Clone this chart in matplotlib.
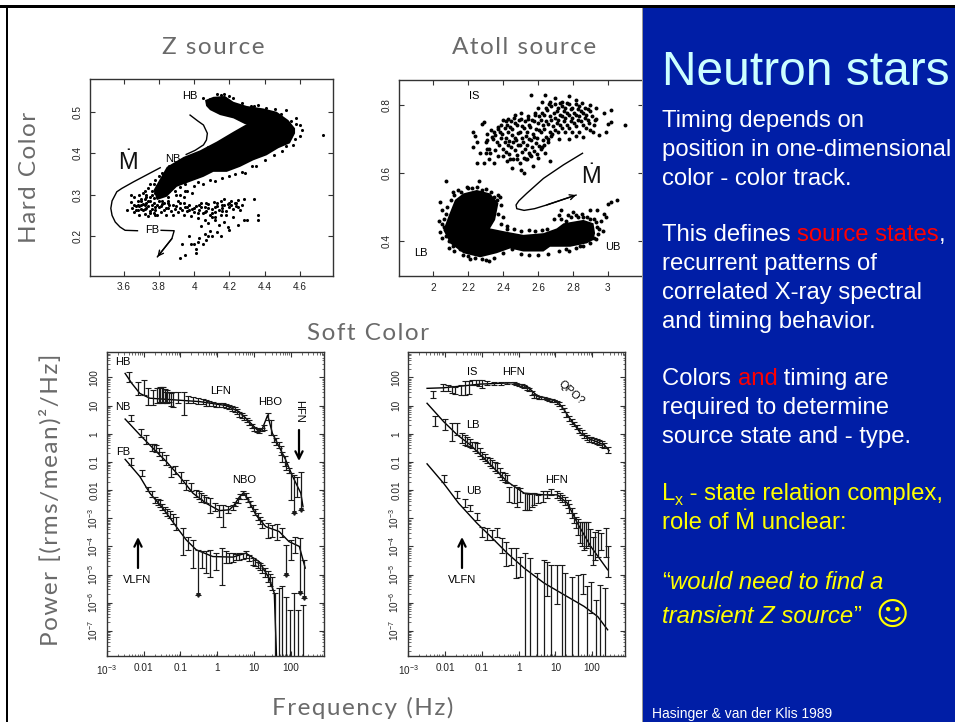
#!/usr/bin/env python3
# Neutron stars slide: two colour-colour diagrams, two power spectra, text column

import numpy as np
import matplotlib
matplotlib.use("Agg")
import matplotlib.pyplot as plt
from matplotlib.patches import Polygon, Rectangle
from matplotlib.ticker import LogLocator, NullFormatter

W, H = 955, 722

# ---- colour-colour diagrams ----
# solid black part of the Z track, read as an outline
z_core_x = [4.062,4.109,4.175,4.223,4.298,4.392,4.468,4.534,4.572,4.572,4.543,4.477,4.411,4.336,4.26,4.185,4.109,4.053,3.977,3.902,3.845,3.789,3.77,3.845,3.94,4.034,4.128,4.223,4.289,4.298,4.223,4.147,4.09,4.068]
z_core_y = [.528,.536,.538,.524,.514,.508,.5,.48,.46,.448,.424,.412,.395,.383,.367,.355,.355,.343,.331,.319,.295,.287,.311,.367,.391,.407,.428,.452,.468,.468,.484,.492,.504,.514]
z_pts = [
 (4.73,.445),(4.61,.455),(4.60,.468),(4.58,.484),(4.52,.505),(4.46,.507),(4.36,.516),(4.32,.514),(4.15,.54),(4.2,.538),(4.09,.53),(4.05,.532),
 (4.13,.542),(4.17,.544),(4.22,.532),(4.27,.522),(4.34,.513),(4.41,.51),(4.49,.494),(4.55,.478),(4.58,.47),(4.6,.442),(4.57,.435),(4.56,.42),(4.52,.418),
 (4.5,.405),(4.45,.395),(4.4,.383),(4.33,.37),(4.27,.355),(4.2,.345),(4.12,.333),(4.05,.325),(3.99,.305),(3.94,.295),(3.9,.3),(3.85,.285),
 (4.3,.46),(4.25,.44),(4.2,.437),(4.16,.43),(4.12,.42),(4.08,.415),(4.05,.405),(4.0,.398),(3.97,.39),(3.93,.382),(3.9,.372),(3.86,.368),(3.82,.352),
 (3.8,.345),(3.84,.355),(3.78,.335),(3.75,.325),(3.72,.31),(3.69,.3),(3.66,.295),(3.64,.3),(4.35,.37),(4.29,.352),(4.23,.35),(4.16,.34),(4.09,.336),(4.0,.32),(3.96,.31),
 (3.71,.305),(3.74,.315),(3.77,.325),(3.73,.3),(3.76,.31),(3.79,.32),(3.82,.33),(3.75,.295),(3.78,.305),(3.81,.315),(3.84,.33),(3.87,.345),(3.7,.285),(3.72,.29),
 (3.74,.285),(3.77,.292),(3.8,.3),(3.83,.31),(3.86,.32),(3.89,.33),(3.92,.35),(3.95,.36),(3.89,.31),(3.92,.318),(3.95,.325),(3.92,.3),(3.95,.31),(3.98,.35),(4.02,.33),
 (3.62,.263),(3.64,.282),(3.65,.267),(3.66,.258),(3.67,.272),(3.68,.262),(3.69,.25),(3.7,.265),(3.71,.278),(3.72,.254),(3.73,.268),(3.74,.248),(3.75,.26),
 (3.76,.275),(3.77,.256),(3.78,.262),(3.79,.25),(3.8,.27),(3.81,.258),(3.82,.278),(3.83,.262),(3.84,.252),(3.85,.268),(3.86,.276),(3.87,.26),(3.88,.25),
 (3.89,.266),(3.9,.272),(3.91,.258),(3.92,.28),(3.93,.262),(3.94,.252),(3.95,.27),(3.96,.26),(3.97,.276),(3.98,.248),(3.99,.265),(4.0,.258),(4.01,.272),
 (4.02,.244),(4.03,.262),(4.04,.28),(4.05,.255),(4.06,.27),(4.07,.26),(4.08,.278),(4.09,.25),(4.1,.265),(4.11,.282),(4.12,.258),(4.13,.272),(4.14,.262),
 (4.15,.285),(4.16,.268),(4.17,.29),(4.18,.26),(4.19,.278),(4.2,.27),(4.21,.285),(4.22,.265),(4.23,.28),(4.24,.272),(4.25,.288),(4.26,.262),(4.27,.276),(4.28,.29),
 (3.68,.285),(3.7,.29),(3.72,.275),(3.73,.295),(3.75,.285),(3.76,.3),(3.77,.28),(3.79,.295),(3.8,.285),(3.82,.3),(3.83,.28),(3.85,.295),(3.86,.31),(3.69,.272),
 (3.71,.262),(3.74,.272),(3.78,.27),(3.81,.272),(3.84,.268),(3.66,.275),(3.67,.262),(3.72,.265),(3.75,.255),(3.78,.252),(3.92,.268),(3.96,.27),(4.0,.268),(4.04,.27),
 (4.08,.268),(4.12,.27),(4.16,.276),(4.2,.28),(4.24,.28),(4.02,.255),(4.06,.258),(4.1,.255),(3.68,.275),(3.7,.275),(3.73,.28),(3.76,.265),(3.79,.275),(3.82,.285),
 (3.85,.28),(3.88,.275),(3.91,.285),(3.94,.28),(3.97,.262),(4.03,.275),(4.07,.28),(4.13,.28),(4.17,.275),(4.21,.275),(4.25,.27),
 (4.04,.225),(4.06,.24),(4.08,.232),(4.1,.245),(4.12,.238),(4.14,.228),(4.15,.25),(4.17,.235),(4.19,.222),(4.13,.21),(4.09,.212),(4.06,.205),(4.03,.195),
 (4.07,.19),(4.1,.2),(4.15,.2),(4.2,.215),(4.25,.228),(4.22,.245),(4.3,.24),(4.28,.24),(4.36,.24),(4.36,.25),(4.34,.29),(3.93,.18),(3.97,.2),(4.0,.18),
 (4.01,.17),(4.02,.185),(4.05,.18),(3.95,.155),(3.92,.147),(4.01,.16),(3.98,.182),(4.08,.2),(4.16,.26),(4.18,.25),(4.12,.245),
]

a_lb_x = [2.086,2.124,2.172,2.249,2.325,2.373,2.354,2.325,2.421,2.516,2.631,2.707,2.746,2.86,2.918,2.927,2.918,2.88,2.784,2.669,2.631,2.516,2.44,2.363,2.268,2.172,2.096,2.057]
a_lb_y = [.472,.521,.540,.55,.540,.511,.462,.437,.427,.418,.423,.437,.452,.462,.452,.423,.403,.393,.383,.383,.369,.369,.378,.364,.352,.364,.393,.432]
a_pts = [
 (3.1,.742),(3.02,.75),(3.0,.745),(3.02,.785),(2.99,.72),(2.95,.712),(2.98,.775),(2.93,.79),(2.56,.828),(2.29,.75),(2.28,.745),(2.24,.71),(2.23,.72),
 (2.25,.69),(2.23,.675),(2.25,.628),(2.29,.63),(2.32,.64),(2.35,.63),(2.3,.66),(2.32,.67),(2.27,.66),(2.3,.69),(2.34,.7),(2.31,.715),(2.35,.72),(2.37,.735),
 (2.4,.755),(2.43,.76),(2.47,.77),(2.5,.775),(2.54,.76),(2.58,.775),(2.62,.81),(2.64,.83),(2.6,.79),(2.67,.81),(2.7,.82),(2.74,.81),(2.78,.825),(2.82,.815),
 (2.85,.805),(2.9,.8),(2.93,.76),(2.92,.74),(2.9,.725),(2.86,.705),(2.82,.71),(2.78,.7),(2.72,.7),(2.68,.715),(2.66,.69),(2.64,.66),(2.67,.635),(2.62,.675),
 (2.6,.645),(2.57,.62),(2.52,.6),(2.5,.61),(2.45,.615),(2.42,.635),(2.4,.65),(2.37,.65),(2.44,.64),(2.48,.64),(2.53,.64),(2.56,.65),
 (2.305,.672),(2.31,.698),(2.325,.66),(2.338,.705),(2.33,.727),(2.355,.668),(2.365,.692),(2.352,.712),(2.372,.73),(2.375,.682),(2.388,.703),(2.382,.722),(2.39,.742),
 (2.398,.672),(2.41,.692),(2.396,.716),(2.408,.733),(2.416,.752),(2.418,.662),(2.427,.682),(2.415,.703),(2.43,.722),(2.424,.742),(2.436,.655),(2.447,.677),(2.435,.695),
 (2.449,.712),(2.438,.735),(2.445,.752),(2.455,.642),(2.468,.668),(2.458,.692),(2.469,.703),(2.452,.73),(2.466,.747),(2.46,.762),(2.477,.652),(2.486,.682),(2.475,.697),
 (2.488,.717),(2.478,.74),(2.49,.755),(2.497,.63),(2.508,.662),(2.495,.682),(2.51,.702),(2.496,.722),(2.507,.737),(2.5,.76),(2.518,.645),(2.527,.672),(2.516,.692),
 (2.529,.71),(2.517,.733),(2.526,.752),(2.536,.642),(2.547,.66),(2.535,.682),(2.549,.7),(2.538,.722),(2.546,.74),(2.54,.767),(2.556,.652),(2.568,.675),(2.557,.697),
 (2.569,.715),(2.555,.735),(2.566,.755),(2.576,.665),(2.587,.687),(2.575,.705),(2.589,.73),(2.578,.752),(2.585,.77),(2.595,.655),(2.607,.68),(2.596,.702),(2.608,.725),
 (2.598,.747),(2.605,.767),(2.615,.67),(2.627,.697),(2.616,.72),(2.628,.742),(2.617,.757),(2.625,.776),(2.635,.682),(2.648,.707),(2.636,.73),(2.647,.752),(2.634,.77),
 (2.645,.79),(2.655,.7),(2.667,.722),(2.656,.745),(2.668,.767),(2.654,.785),(2.665,.802),(2.675,.71),(2.687,.737),(2.677,.757),(2.689,.777),(2.676,.796),(2.695,.725),
 (2.707,.747),(2.697,.762),(2.708,.782),(2.696,.802),(2.715,.72),(2.727,.742),(2.716,.757),(2.728,.772),(2.717,.792),(2.726,.807),(2.735,.732),(2.747,.752),(2.736,.767),
 (2.748,.782),(2.737,.797),(2.755,.722),(2.767,.742),(2.756,.762),(2.768,.777),(2.757,.792),(2.766,.807),(2.775,.732),(2.787,.752),(2.776,.772),(2.788,.787),(2.777,.802),
 (2.795,.722),(2.807,.747),(2.796,.762),(2.808,.777),(2.797,.792),(2.815,.737),(2.827,.757),(2.816,.772),(2.828,.787),(2.817,.802),(2.835,.722),(2.847,.752),(2.836,.767),
 (2.848,.782),(2.837,.797),(2.855,.742),(2.867,.762),(2.856,.777),(2.868,.792),(2.875,.732),(2.887,.757),(2.876,.772),(2.888,.787),(2.895,.747),(2.907,.767),(2.896,.782),
 (2.915,.722),(2.926,.757),
 (2.07,.575),(2.11,.545),(2.14,.55),(2.19,.56),(2.2,.555),(2.25,.56),(2.3,.552),(2.26,.577),(2.38,.53),(2.37,.535),(2.4,.47),(2.385,.505),(2.42,.445),
 (2.04,.515),(2.05,.49),(2.03,.46),(2.06,.44),(2.04,.425),(2.05,.41),(2.09,.38),(2.12,.37),(2.17,.36),(2.21,.347),(2.3,.345),(2.32,.342),(2.35,.35),(2.4,.365),
 (2.45,.375),(2.5,.362),(2.55,.36),(2.6,.358),(2.66,.362),(2.72,.37),(2.78,.37),(2.84,.385),(2.92,.41),(2.95,.435),(2.97,.43),(2.96,.46),(2.98,.48),(3.0,.51),
 (3.02,.515),(3.05,.52),(2.99,.47),(2.94,.49),(2.9,.49),(2.85,.48),(2.8,.485),(2.77,.475),(2.73,.49),(2.72,.475),(2.69,.465),(2.83,.47),(2.88,.47),(2.92,.465),
 (2.65,.435),(2.62,.432),(2.58,.43),(2.55,.432),(2.5,.43),(2.46,.435),(2.42,.435),(2.39,.45),(2.37,.48),(2.365,.52),(2.35,.53),(2.33,.545),(2.28,.55),(2.22,.555),
 (2.16,.545),(2.12,.535),(2.1,.52),(2.08,.5),(2.07,.48),(2.06,.465),(2.05,.45),(2.07,.415),(2.09,.4),(2.11,.385),(2.15,.375),(2.2,.355),(2.24,.35),(2.28,.348),
 (2.73,.465),(2.76,.46),(2.79,.47),(2.82,.475),(2.86,.47),(2.9,.465),(2.93,.455),(2.94,.44),(2.945,.42),(2.93,.405),(2.9,.395),(2.86,.385),(2.82,.38),(2.76,.375),
]

# ---- spectra, log10(f) and log10(P) ----
hb_line_f = [-2.50,-2.32,-2.10,-1.83,-1.38,-.48,.24,.60,.87,1.14,1.23,1.37,1.50,1.68,1.86,2.05,2.27,2.33]
hb_line_p = [2.14,1.79,1.43,1.26,1.22,1.14,1.0,.78,.43,.07,.19,.66,.01,-.46,-.93,-1.52,-2.11,-2.59]
hb_f = [-2.39,-2.14,-1.99,-1.87,-1.74,-1.63,-1.59,-1.54,-1.50,-1.47,-1.43,-1.40,-1.36,-1.32,-1.26,-1.20,-1.06,-.90,-.79,-.66,-.52,-.39,-.30,-.21,-.12,-.03,.06,.15,.24,.33,.40,.47,.54,.60,.67,.74,.80,.87,.94,1.01,1.08,1.14,1.21,1.28,1.37,1.46,1.55,1.61,1.67,1.72,1.77,1.83,1.88,1.94,2.0,2.09,2.18,2.27]
hb_hi = [2.20,1.85,1.91,1.61,1.55,1.61,1.63,1.67,1.67,1.67,1.60,1.49,1.55,1.49,1.45,1.49,1.49,1.49,1.34,1.29,1.26,1.22,1.18,1.16,1.12,1.10,1.09,1.08,1.05,1.02,.98,.94,.86,.78,.72,.66,.56,.49,.36,.25,.20,.16,.22,.31,.72,.49,-.04,-.16,-.28,-.45,-.64,-.8,-.99,-1.2,-1.40,-1.46,-1.52,-1.35]
hb_lo = [1.85,1.37,1.37,1.02,1.02,1.08,1.10,1.14,1.08,1.14,1.14,1.08,1.10,1.14,1.0,.94,1.08,.66,1.08,1.10,1.05,1.05,1.0,.98,.97,.96,.95,.94,.90,.87,.82,.78,.70,.61,.55,.49,.40,.31,.20,.11,.07,.04,.08,.13,.49,-.04,-.28,-.40,-.52,-.74,-.99,-1.14,-1.29,-1.4,-2.35,-2.82,-2.23,-2.70]
hb_arrow_f = [2.09,2.27]
hb_arrow_p = [-2.82,-2.70]

nb_line_f = [-2.50,-2.10,-1.74,-1.38,-1.02,-.66,-.30,.06,.33,.45,.60,.72,.87,1.05,1.32,1.68,1.95,2.23,2.39]
nb_line_p = [.52,-.04,-.52,-.99,-1.52,-2.11,-2.47,-2.73,-2.70,-2.55,-2.25,-2.09,-2.41,-2.88,-3.30,-3.47,-3.83,-4.0,-4.77]
nb_f = [-2.34,-2.08,-1.92,-1.78,-1.72,-1.65,-1.58,-1.51,-1.38,-1.26,-1.14,-.99,-.84,-.70,-.57,-.50,-.43,-.36,-.30,-.19,-.05,.06,.17,.29,.42,.49,.56,.63,.71,.77,.83,.90,.96,1.03,1.10,1.16,1.23,1.37,1.50,1.62,1.77,1.88,2.0,2.12,2.25,2.36]
nb_hi = [.66,.16,-.04,-.36,-.36,-.40,-.5,-.64,-.75,-1.17,-1.13,-1.35,-1.64,-1.76,-2.0,-2.05,-2.11,-2.17,-2.23,-2.29,-2.47,-2.53,-2.53,-2.56,-2.53,-2.42,-2.29,-2.15,-2.03,-2.12,-2.23,-2.38,-2.53,-2.68,-2.82,-2.95,-3.06,-3.18,-3.24,-3.20,-3.35,-3.95,-3.77,-3.65,-3.71,-4.48]
nb_lo = [.46,-.13,-.36,-.60,-.62,-.64,-.78,-.93,-1.11,-1.52,-1.43,-1.76,-2.0,-2.05,-2.23,-2.32,-2.41,-2.44,-2.47,-2.82,-2.76,-2.94,-3.30,-2.82,-2.70,-2.58,-2.47,-2.32,-2.17,-2.3,-2.44,-2.6,-2.76,-2.9,-3.06,-3.2,-3.35,-3.71,-3.65,-3.77,-3.65,-5.01,-4.48,-4.24,-5.66,-5.84]
nb_arrow_f = [1.88,2.25,2.36]
nb_arrow_p = [-5.01,-5.66,-5.84]

fb_line_f = [-2.50,-2.10,-1.83,-1.47,-1.11,-.84,-.57,-.12,.42,.78,1.14,1.41,1.55,1.61]
fb_line_p = [-.91,-1.52,-2.11,-2.65,-3.30,-3.77,-4.12,-4.36,-4.38,-4.24,-4.54,-5.13,-5.66,-7.88]
fb_f = [-2.34,-2.05,-1.87,-1.78,-1.69,-1.62,-1.56,-1.49,-1.42,-1.35,-1.29,-1.20,-1.11,-.93,-.79,-.66,-.52,-.41,-.30,-.19,-.03,.13,.24,.33,.42,.51,.60,.69,.78,.87,.96,1.03,1.10,1.16,1.23,1.30,1.37,1.44,1.50,1.58,1.68,1.77,1.88,1.97,2.09,2.20,2.33]
fb_hi = [-.87,-1.29,-1.88,-2.05,-2.23,-2.30,-2.35,-2.48,-2.59,-2.68,-2.76,-2.85,-2.94,-3.35,-3.65,-3.77,-4.12,-4.18,-4.18,-4.12,-4.24,-4.06,-4.18,-4.22,-4.24,-4.26,-4.24,-4.22,-4.18,-4.30,-4.42,-4.48,-4.54,-4.60,-4.65,-4.78,-4.89,-4.98,-5.07,-5.66,-5.48,-5.42,-5.78,-6.25,-5.66,-6.25,-6.07]
fb_lo = [-1.11,-1.50,-2.05,-2.25,-2.47,-2.52,-2.59,-2.70,-2.82,-2.92,-3.0,-3.2,-3.41,-4.30,-4.12,-4.77,-5.72,-4.77,-4.95,-5.07,-4.83,-5.36,-4.60,-4.58,-4.54,-4.50,-4.48,-4.44,-4.42,-4.52,-4.65,-4.70,-4.77,-4.85,-4.95,-5.10,-5.25,-5.40,-5.54,-8,-8,-8,-8,-8,-8,-8,-8]
fb_arrow_f = [-.52]
fb_arrow_p = [-5.72]

is_line_f = [-2.49,-2.04,-1.49,-1.04,-.13,.24,.51,.78,1.05,1.24,1.42,1.69,1.96,2.33,2.46]
is_line_p = [1.61,1.63,1.70,1.76,1.81,1.67,1.34,1.26,1.16,.84,.49,.01,-.20,-.40,-.60]
is_f = [-2.33,-2.05,-1.93,-1.81,-1.72,-1.58,-1.46,-1.35,-1.26,-1.17,-1.08,-.99,-.85,-.67,-.49,-.31,-.13,-.06,.01,.08,.15,.22,.28,.35,.42,.48,.55,.62,.69,.76,.83,.90,.96,1.03,1.10,1.17,1.24,1.30,1.37,1.44,1.51,1.58,1.65,1.72,1.78,1.85,1.92,1.98,2.05,2.12,2.19,2.26,2.33,2.44]
is_hi = [1.52,1.76,1.73,1.69,1.67,1.73,1.88,1.87,1.91,1.91,1.91,1.91,1.86,1.84,1.84,1.84,1.84,1.81,1.78,1.75,1.72,1.67,1.62,1.52,1.42,1.37,1.33,1.31,1.30,1.27,1.24,1.22,1.20,1.16,1.12,1.02,.90,.76,.62,.52,.42,.32,.22,.13,.04,-.04,-.10,-.13,-.16,-.19,-.22,-.27,-.32,-.48]
is_lo = [1.26,1.53,1.53,1.46,1.41,1.37,1.37,1.41,1.73,1.73,1.70,1.61,1.74,1.74,1.74,1.76,1.76,1.73,1.70,1.66,1.62,1.56,1.50,1.39,1.28,1.25,1.22,1.22,1.22,1.19,1.16,1.14,1.12,1.06,1.00,.88,.76,.61,.46,.36,.26,.15,.04,-.05,-.14,-.21,-.28,-.31,-.34,-.37,-.40,-.46,-.52,-.68]

lb_line_f = [-2.49,-2.04,-1.67,-1.31,-.85,-.31,.15,.69,1.05,1.33,1.6,1.96,2.42]
lb_line_p = [1.08,.43,-.04,-.40,-.99,-1.70,-2.11,-2.17,-2.17,-2.47,-3.18,-4.0,-4.83]
lb_f = [-2.28,-1.99,-1.81,-1.67,-1.54,-1.47,-1.40,-1.33,-1.26,-1.19,-1.13,-1.06,-.99,-.92,-.85,-.78,-.72,-.65,-.58,-.51,-.45,-.38,-.31,-.25,-.13,-.05,.05,.16,.22,.28,.35,.42,.53,.65,.78,.89,1.05,1.12,1.19,1.26,1.33,1.38,1.44,1.50,1.55,1.61,1.67,1.72,1.78,1.83,1.89,1.95,2.01,2.08,2.15,2.25,2.37,2.44]
lb_hi = [.63,.51,.37,.37,.01,-.05,-.10,-.2,-.28,-.30,-.34,-.5,-.64,-.72,-.81,-.88,-.93,-1.0,-1.05,-1.2,-1.35,-1.4,-1.46,-1.88,-1.82,-1.88,-1.94,-2.11,-2.12,-2.14,-2.12,-2.11,-2.17,-2.05,-2.02,-1.97,-2.05,-2.1,-2.17,-2.25,-2.35,-2.5,-2.65,-2.8,-2.94,-3.03,-3.12,-3.12,-3.12,-3.12,-3.12,-3.4,-3.65,-3.5,-3.41,-3.53,-3.35,-4.0]
lb_lo = [.27,.13,-.25,-.04,-.34,-.39,-.43,-.48,-.52,-.60,-.70,-.80,-.91,-.98,-1.05,-1.15,-1.23,-1.32,-1.40,-1.52,-1.64,-1.7,-1.76,-2.41,-2.47,-2.61,-2.41,-2.70,-2.70,-2.70,-2.6,-2.53,-2.47,-2.41,-2.29,-2.17,-2.29,-2.35,-2.41,-2.53,-2.65,-2.82,-3.0,-3.18,-3.35,-3.6,-3.89,-4.0,-4.12,-4.05,-4.0,-4.3,-4.65,-4.5,-4.36,-4.12,-4.36,-5.07]

ub_line_f = [-2.49,-2.04,-1.63,-1.13,-.76,-.31,.15,.69,1.24,1.78,2.15,2.42]
ub_line_p = [-1.07,-1.76,-2.47,-3.18,-3.65,-4.24,-4.77,-5.30,-5.72,-6.13,-6.49,-6.96]
ub_f = [-2.04,-1.67,-1.47,-1.31,-1.13,-.99,-.85,-.72,-.58,-.46,-.34,-.20,-.08,.05,.16,.30,.51,.69,.78,.89,1.04,1.17,1.25,1.44,1.62,1.76,1.85,1.98,2.10,2.20,2.35]
ub_hi = [-1.46,-2.05,-2.33,-2.53,-2.80,-3.30,-3.35,-3.41,-3.35,-3.71,-3.83,-4.06,-4.06,-4.36,-4.24,-4.42,-4.95,-4.48,-4.54,-4.65,-4.65,-4.65,-4.95,-5.07,-5.01,-4.97,-5.42,-5.25,-5.90,-5.36,-5.48]
ub_lo = [-1.70,-2.29,-2.61,-2.76,-3.06,-3.65,-3.77,-3.77,-3.65,-4.24,-4.69,-4.65,-5.13,-5.07,-8,-8,-8,-8,-5.75,-8,-6.04,-8,-8,-8,-8,-5.68,-8,-6.37,-8,-8,-8]

# mdot tracks drawn over the colour diagrams
z_curve1_x = [3.977,4.02,4.053,4.075,4.07,4.053,4.006,3.955]
z_curve1_y = [.492,.478,.468,.448,.432,.42,.407,.397]
z_curve2_x = [3.808,3.657,3.59,3.562,3.535,3.528,3.535,3.553,3.58,3.609,3.679]
z_curve2_y = [.365,.331,.315,.307,.285,.267,.25,.234,.222,.214,.213]
z_curve3_x = [3.813,3.887,3.874,3.792]
z_curve3_y = [.214,.213,.194,.15]
a_curve_x = [2.855,2.746,2.631,2.535,2.49,2.474,2.478,2.52,2.58,2.65,2.818]
a_curve_y = [.658,.624,.584,.540,.518,.506,.495,.49,.495,.506,.535]

x_ticks_z = [3.6,3.8,4,4.2,4.4,4.6]
x_labels_z = ["3.6","3.8","4","4.2","4.4","4.6"]
y_ticks_z = [.2,.3,.4,.5]
y_labels_z = ["0.2","0.3","0.4","0.5"]
x_ticks_a = [2,2.2,2.4,2.6,2.8,3]
x_labels_a = ["2","2.2","2.4","2.6","2.8","3"]
y_ticks_a = [.4,.6,.8]
y_labels_a = ["0.4","0.6","0.8"]
y_ticks_p = [2,1,0,-1,-2,-3,-4,-5,-6,-7]
y_labels_p = ["100","10","1","0.1","0.01",r"$10^{-3}$",r"$10^{-4}$",r"$10^{-5}$",r"$10^{-6}$",r"$10^{-7}$"]
x_ticks_p = [-3,-2,-1,0,1,2]
x_labels_p = [r"$10^{-3}$","0.01","0.1","1","10","100"]

plt.rcParams['font.family'] = ['Liberation Sans', 'DejaVu Sans']
plt.rcParams['mathtext.fontset'] = 'custom'
plt.rcParams['mathtext.rm'] = 'Liberation Sans'
plt.rcParams['mathtext.it'] = 'Liberation Sans:italic'
plt.rcParams['mathtext.bf'] = 'Liberation Sans:bold'

fig = plt.figure(figsize=(W / 100, H / 100), dpi=100, facecolor='white')


def px_axes(left, top, right, bottom):
    return fig.add_axes([left / W, 1 - bottom / H, (right - left) / W, (bottom - top) / H])


def style_axes(ax):
    for s in ax.spines.values():
        s.set_linewidth(1.0)
        s.set_color('#333333')
    ax.tick_params(which='major', direction='in', length=3.5, width=0.8, top=True, right=True,
                   labelsize=7.2, labelcolor='#222222', color='#333333', pad=5)
    ax.tick_params(axis='y', labelrotation=90)
    for t in ax.get_yticklabels():
        t.set_va('center')


# Z source
ax = px_axes(90, 79, 333, 275.5)
ax.set_xlim(3.41, 4.787)
ax.set_ylim(.105, .579)
ax.add_patch(Polygon(np.column_stack([z_core_x, z_core_y]), closed=True, fc='black', ec='none'))
zp = np.array(z_pts)
ax.scatter(zp[:, 0], zp[:, 1], s=5, c='black', lw=0)
ax.plot(z_curve1_x, z_curve1_y, 'k', lw=1)
ax.plot(z_curve2_x, z_curve2_y, 'k', lw=1)
ax.plot(z_curve3_x, z_curve3_y, 'k', lw=1)
ax.annotate('', xy=(z_curve3_x[-1], z_curve3_y[-1]), xytext=(z_curve3_x[-2], z_curve3_y[-2]),
            arrowprops=dict(arrowstyle='->', lw=1, color='k', mutation_scale=9, shrinkA=0, shrinkB=0))
ax.set_xticks(x_ticks_z, x_labels_z)
ax.set_yticks(y_ticks_z, y_labels_z)
style_axes(ax)

# Atoll source
ax = px_axes(399, 80, 642.7, 276)
ax.set_xlim(1.803, 3.2)
ax.set_ylim(.297, .8735)
ax.add_patch(Polygon(np.column_stack([a_lb_x, a_lb_y]), closed=True, fc='black', ec='none'))
ap = np.array(a_pts)
ax.scatter(ap[:, 0], ap[:, 1], s=8, c='black', lw=0)
ax.plot(a_curve_x, a_curve_y, 'k', lw=1)
ax.annotate('', xy=(a_curve_x[-1], a_curve_y[-1]), xytext=(a_curve_x[-2], a_curve_y[-2]),
            arrowprops=dict(arrowstyle='->', lw=1, color='k', mutation_scale=9, shrinkA=0, shrinkB=0))
ax.set_xticks(x_ticks_a, x_labels_a)
ax.set_yticks(y_ticks_a, y_labels_a)
style_axes(ax)


def spectrum_axes(left, right):
    ax = px_axes(left, 352, right, 656)
    ax.set_xscale('log')
    ax.set_yscale('log')
    ax.set_xlim(1e-3, 10 ** 2.9)
    ax.set_ylim(10 ** -7.89, 10 ** 2.9)
    ax.set_xticks([10.0 ** v for v in x_ticks_p], x_labels_p)
    ax.set_yticks([10.0 ** v for v in y_ticks_p], y_labels_p)
    ax.xaxis.set_minor_locator(LogLocator(base=10, subs=np.arange(2, 10), numticks=20))
    ax.yaxis.set_minor_locator(LogLocator(base=10, subs=np.arange(2, 10), numticks=30))
    ax.xaxis.set_minor_formatter(NullFormatter())
    ax.yaxis.set_minor_formatter(NullFormatter())
    style_axes(ax)
    ax.tick_params(which='minor', direction='in', length=1.8, width=0.5, top=True, right=True, color='#333333')
    return ax


def spectrum(ax, line_f, line_p, f, lo, hi, arrow_f=(), arrow_p=()):
    f = 10.0 ** np.array(f)
    lo = 10.0 ** np.array(lo)
    hi = 10.0 ** np.array(hi)
    ax.plot(10.0 ** np.array(line_f), 10.0 ** np.array(line_p), 'k', lw=1)
    ax.vlines(f, lo, hi, color='#1a1a1a', lw=0.9)
    ax.plot(f, lo, ls='none', marker='_', ms=4, mew=0.8, color='#1a1a1a')
    ax.plot(f, hi, ls='none', marker='_', ms=4, mew=0.8, color='#1a1a1a')
    if len(arrow_f):
        ax.plot(10.0 ** np.array(arrow_f), 10.0 ** np.array(arrow_p), ls='none', marker='v', ms=2.6, color='#1a1a1a')


ax = spectrum_axes(106.7, 324)
spectrum(ax, hb_line_f, hb_line_p, hb_f, hb_lo, hb_hi, hb_arrow_f, hb_arrow_p)
spectrum(ax, nb_line_f, nb_line_p, nb_f, nb_lo, nb_hi, nb_arrow_f, nb_arrow_p)
spectrum(ax, fb_line_f, fb_line_p, fb_f, fb_lo, fb_hi, fb_arrow_f, fb_arrow_p)

ax = spectrum_axes(408.3, 625.3)
spectrum(ax, is_line_f, is_line_p, is_f, is_lo, is_hi)
spectrum(ax, lb_line_f, lb_line_p, lb_f, lb_lo, lb_hi)
spectrum(ax, ub_line_f, ub_line_p, ub_f, ub_lo, ub_hi)

# everything else goes on a pixel overlay
ov = fig.add_axes([0, 0, 1, 1], zorder=5)
ov.set_xlim(0, W)
ov.set_ylim(H, 0)
ov.axis('off')
ov.patch.set_alpha(0)

ov.add_patch(Rectangle((643, 7), W - 643, H - 7, fc='#001EA6', ec='none'))
ov.add_patch(Rectangle((641.5, 7), 1.6, H - 7, fc='#999999', ec='none'))
ov.add_patch(Rectangle((0, 5), W, 2.5, fc='black', ec='none'))
ov.add_patch(Rectangle((5.5, 5), 2.5, H - 5, fc='black', ec='none'))


def spaced(s):
    # the headings are letter-spaced, hair spaces do it
    return '\u200a'.join(s)


# thin big headings
heading = dict(family=['Lato', 'DejaVu Sans'], weight='normal', color='#6a6a6a', ha='center', va='center', fontsize=17.5)
ov.text(213, 47, spaced('Z source'), **heading)
ov.text(524, 47, spaced('Atoll source'), **heading)
ov.text(368, 334, spaced('Soft Color'), **heading)
ov.text(363, 708, spaced('Frequency (Hz)'), **heading)
ov.text(30, 177, spaced('Hard Color'), rotation=90, **heading)
ov.text(50, 500, spaced('Power [(rms/mean)²/Hz]'), rotation=90, **heading)

small = dict(color='black', fontsize=8, ha='center', va='center')
for x, y, s in [(190, 96, 'HB'), (173, 159, 'NB'), (152, 230, 'FB'),
                (474, 96, 'IS'), (421, 253, 'LB'), (613, 247, 'UB'),
                (123, 362, 'HB'), (123, 407, 'NB'), (123, 452, 'FB'),
                (221, 391, 'LFN'), (270, 402, 'HBO'), (244, 480, 'NBO'), (137, 580, 'VLFN'),
                (472, 372, 'IS'), (513, 372, 'HFN'), (473, 425, 'LB'), (556, 480, 'HFN'),
                (474, 491, 'UB'), (462, 580, 'VLFN')]:
    ov.text(x, y, s, **small)
ov.text(299, 411, 'HFN', rotation=-90, **small)
ov.text(571, 393, 'QPO?', rotation=-42, **small)
ov.text(128, 163, 'Ṁ', color='#111111', fontsize=17, ha='center', va='center')
ov.text(591, 177, 'Ṁ', color='#111111', fontsize=17, ha='center', va='center')

for x, y0, y1 in [(138, 568, 537), (299, 430, 461), (462, 568, 537)]:
    ov.annotate('', xy=(x, y1), xytext=(x, y0),
                arrowprops=dict(arrowstyle='->', lw=1.6, color='k', mutation_scale=13, shrinkA=0, shrinkB=0))

# text column, coloured runs laid end to end
WHITE = 'white'
YEL = '#FFFF00'
RED = '#FF0000'
renderer = fig.canvas.get_renderer()


def text_line(x, y, runs, size=17.2):
    for run in runs:
        s, col = run[0], run[1]
        style = run[2] if len(run) > 2 else 'normal'
        fs = run[3] if len(run) > 3 else size
        dy = run[4] if len(run) > 4 else 0
        ov.text(x, y + dy, s, color=col, style=style, fontsize=fs, ha='left', va='baseline')
        # trailing blanks do not count in the extent, so measure with a bar
        probe = ov.text(0, 0, s + '|', fontsize=fs, style=style)
        bar = ov.text(0, 0, '|', fontsize=fs, style=style)
        x += probe.get_window_extent(renderer).width - bar.get_window_extent(renderer).width
        probe.remove()
        bar.remove()


ov.text(662, 85, 'Neutron stars', color='#CCFFFF', fontsize=34.5, ha='left', va='baseline')
text_line(662, 127, [('Timing depends on', WHITE)])
text_line(662, 156, [('position in one-dimensional', WHITE)])
text_line(662, 185, [('color - color track.', WHITE)])
text_line(662, 241, [('This defines ', WHITE), ('source states', RED), (',', WHITE)])
text_line(662, 270, [('recurrent patterns of', WHITE)])
text_line(662, 299, [('correlated X-ray spectral', WHITE)])
text_line(662, 328, [('and timing behavior.', WHITE)])
text_line(662, 385, [('Colors ', WHITE), ('and', RED), (' timing are', WHITE)])
text_line(662, 414, [('required to determine', WHITE)])
text_line(662, 443, [('source state and - type.', WHITE)])
text_line(662, 500, [('L', YEL), ('x', YEL, 'normal', 11.5, 5), (' - state relation complex,', YEL)])
text_line(662, 529, [('role of Ṁ unclear:', YEL)])
text_line(662, 589, [('“', YEL), ('would need to find a', YEL, 'italic')])
text_line(662, 623, [('transient Z source', YEL, 'italic'), ('”', YEL)])
ov.text(892, 616, '☺', color=YEL, family=['DejaVu Sans'], fontsize=23, ha='center', va='center')
ov.text(652, 718, 'Hasinger & van der Klis 1989', color='white', fontsize=10, ha='left', va='baseline')

fig.savefig('out.png', dpi=100)
